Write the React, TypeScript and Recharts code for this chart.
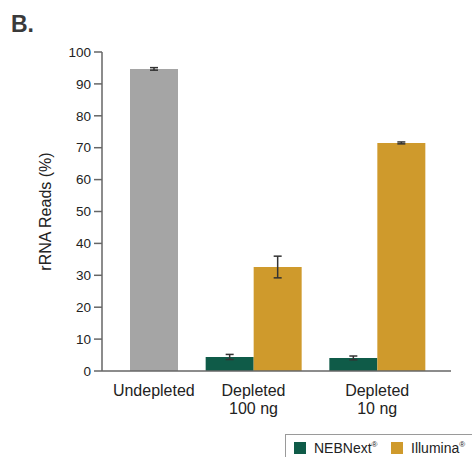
import React from 'react';
import { BarChart, Bar, XAxis, YAxis, ErrorBar } from 'recharts';

// ---- data ----
const categories = ['Undepleted', 'Depleted 100 ng', 'Depleted 10 ng'];
const categoryLines = [['Undepleted'], ['Depleted', '100 ng'], ['Depleted', '10 ng']];
const undepleted: (number | null)[] = [94.7, null, null];
const undepletedErr: (number | null)[] = [0.4, null, null];
const nebnext: (number | null)[] = [null, 4.4, 4.1];
const nebnextErr: (number | null)[] = [null, 0.8, 0.6];
const illumina: (number | null)[] = [null, 32.6, 71.5];
const illuminaErr: (number | null)[] = [null, 3.4, 0.3];
const yTicks = [0, 10, 20, 30, 40, 50, 60, 70, 80, 90, 100];
const seriesNames = ['NEBNext', 'Illumina'];
const panelLabel = 'B.';
const yLabel = 'rRNA Reads (%)';

// ---- styles ----
const FONT = '"Liberation Sans", Arial, Helvetica, sans-serif';
const GREEN = '#0f5b48';
const GOLD = '#cf9a2c';
const GRAY = '#a5a5a5';
const AXIS = '#666666';
const TEXT = '#222222';
const BAR_SIZE = 48;

const data = categories.map((c, i) => ({
  category: c,
  undepleted: undepleted[i],
  undepletedErr: undepletedErr[i],
  nebnext: nebnext[i],
  nebnextErr: nebnextErr[i],
  illumina: illumina[i],
  illuminaErr: illuminaErr[i],
}));

const XTick = (props: any) => {
  const { x, y, payload } = props;
  const i = categories.indexOf(payload.value);
  const shift = nebnext[i] == null ? BAR_SIZE / 2 : 0;
  const lines = categoryLines[i] || [payload.value];
  const cx = x + shift;
  return (
    <text x={cx} y={y} textAnchor="middle" fontSize={16} fill={TEXT} fontFamily={FONT}>
      {lines.map((l, k) => (
        <tspan key={k} x={cx} dy={k === 0 ? '0.71em' : 18}>
          {l}
        </tspan>
      ))}
    </text>
  );
};

const YLabel = (props: any) => {
  const { viewBox } = props;
  const cy = viewBox.y + viewBox.height / 2;
  const cx = 45;
  return (
    <text
      x={cx}
      y={cy}
      transform={`rotate(-90, ${cx}, ${cy})`}
      textAnchor="middle"
      dominantBaseline="central"
      fontSize={16}
      fill={TEXT}
      fontFamily={FONT}
    >
      {yLabel}
    </text>
  );
};

export default function App() {
  return (
    <div style={{ position: 'absolute', left: 0, top: 0, width: 472, height: 457, overflow: 'hidden', background: '#fff' }}>
      <BarChart
        width={472}
        height={457}
        data={data}
        margin={{ top: 52, right: 21, bottom: 36, left: 0 }}
        barSize={BAR_SIZE}
        barGap={0}
        style={{ fontFamily: FONT }}
      >
        <YAxis
          width={102}
          domain={[0, 100]}
          ticks={yTicks}
          interval={0}
          tickSize={8}
          tickMargin={3}
          axisLine={{ stroke: AXIS, strokeWidth: 1.5 }}
          tickLine={{ stroke: AXIS, strokeWidth: 1.5 }}
          tick={{ fontSize: 13.5, fill: TEXT, fontFamily: FONT }}
          label={<YLabel />}
        />
        <XAxis
          dataKey="category"
          height={50}
          interval={0}
          padding={{ left: -34, right: 12 }}
          tickLine={false}
          tickSize={0}
          tickMargin={14}
          axisLine={{ stroke: AXIS, strokeWidth: 1.5 }}
          tick={<XTick />}
        />
        <Bar dataKey="nebnext" stackId="left" fill={GREEN} isAnimationActive={false}>
          <ErrorBar dataKey="nebnextErr" width={4} stroke="#333" strokeWidth={1.5} />
        </Bar>
        <Bar dataKey="illumina" stackId="right" fill={GOLD} isAnimationActive={false}>
          <ErrorBar dataKey="illuminaErr" width={4} stroke="#333" strokeWidth={1.5} />
        </Bar>
        <Bar dataKey="undepleted" stackId="right" fill={GRAY} isAnimationActive={false}>
          <ErrorBar dataKey="undepletedErr" width={4} stroke="#333" strokeWidth={1.5} />
        </Bar>
      </BarChart>
      <svg
        width={472}
        height={457}
        style={{ position: 'absolute', left: 0, top: 0, pointerEvents: 'none' }}
        fontFamily={FONT}
      >
        <text x={11} y={32} fontSize={23} fontWeight="bold" fill="#3a3a3a">
          {panelLabel}
        </text>
        <rect x={285.5} y={434.5} width={200} height={40} fill="none" stroke="#9a9a9a" strokeWidth={1} />
        <rect x={294} y={442} width={12} height={12} fill={GREEN} />
        <text x={314} y={453} fontSize={14} fill={TEXT}>
          {seriesNames[0]}
          <tspan fontSize={8} dy={-6}>®</tspan>
        </text>
        <rect x={391} y={442} width={12} height={12} fill={GOLD} />
        <text x={411} y={453} fontSize={14} fill={TEXT}>
          {seriesNames[1]}
          <tspan fontSize={8} dy={-6}>®</tspan>
        </text>
      </svg>
    </div>
  );
}
